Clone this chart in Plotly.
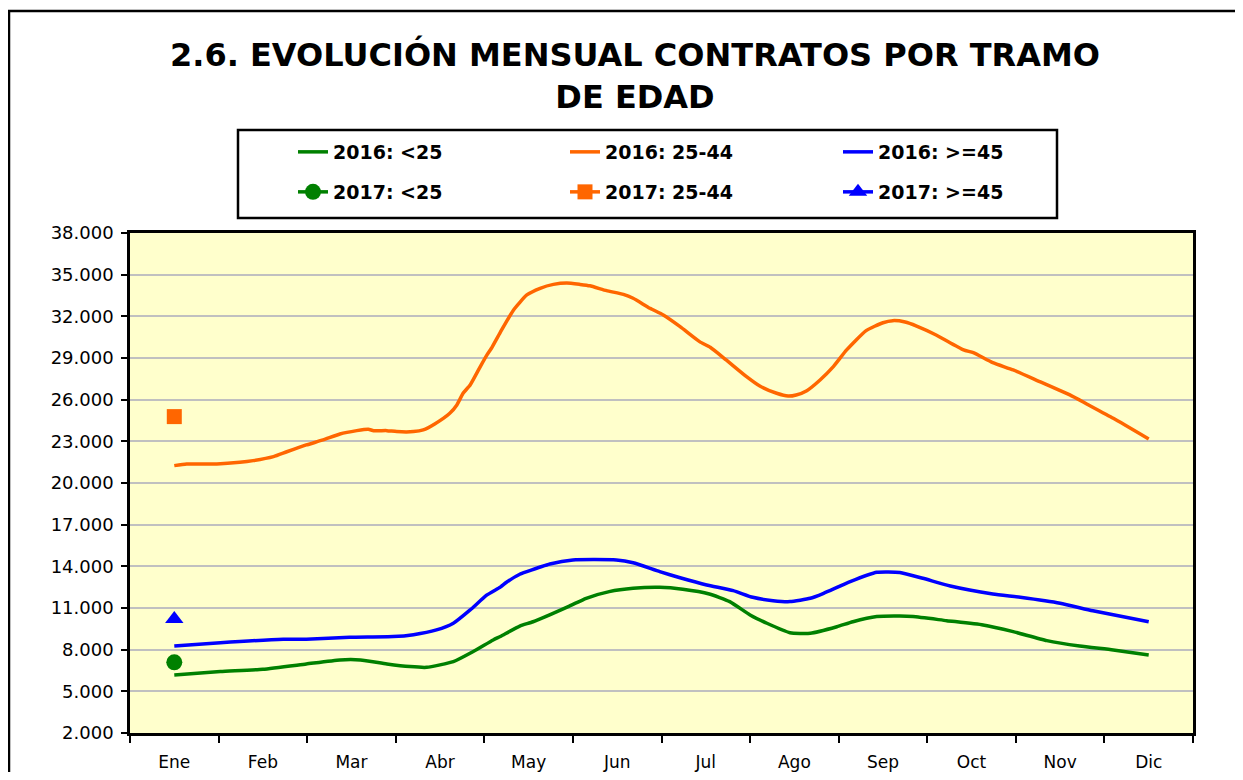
import plotly.graph_objects as go

# ---- data (month position: 1 = Ene ... 12 = Dic) ----
meses = ["Ene", "Feb", "Mar", "Abr", "May", "Jun", "Jul", "Ago", "Sep", "Oct", "Nov", "Dic"]

mes_25_44_2016 = [1.0, 1.14, 1.48, 1.74, 1.89, 2.12, 2.27, 2.49, 2.68, 2.87, 3.06, 3.19, 3.25, 3.40,
                  3.51, 3.70, 3.81, 3.94, 4.11, 4.19, 4.26, 4.34, 4.45, 4.53, 4.58, 4.68, 4.83, 4.98,
                  5.13, 5.28, 5.43, 5.58, 5.69, 5.88, 6.07, 6.18, 6.37, 6.52, 6.71, 6.93, 7.05, 7.23,
                  7.46, 7.61, 7.80, 7.93, 8.02, 8.14, 8.29, 8.44, 8.59, 8.81, 9.00, 9.11, 9.25, 9.38,
                  9.60, 9.91, 10.02, 10.24, 10.47, 10.77, 11.11, 11.30, 11.60, 12.0]
val_25_44_2016 = [21250, 21370, 21370, 21490, 21610, 21900, 22250, 22740, 23100, 23530, 23770, 23870,
                  23770, 23770, 23700, 23700, 23820, 24250, 25020, 25620, 26460, 27060, 28330, 29220,
                  29700, 30850, 32460, 33540, 34020, 34300, 34400, 34300, 34200, 33850, 33580, 33300,
                  32580, 32100, 31260, 30180, 29770, 28860, 27660, 26980, 26460, 26260, 26340, 26650,
                  27420, 28380, 29580, 30970, 31540, 31690, 31590, 31300, 30660, 29580, 29380, 28660,
                  28140, 27300, 26340, 25690, 24660, 23170]

mes_45_2016 = [1.0, 1.52, 2.23, 2.49, 2.98, 3.47, 3.70, 3.96, 4.15, 4.34, 4.53, 4.68, 4.75, 4.90,
               4.98, 5.24, 5.50, 5.99, 6.18, 6.48, 6.71, 7.01, 7.31, 7.53, 7.76, 7.95, 8.18, 8.33,
               8.63, 8.93, 9.19, 9.45, 9.76, 10.24, 10.55, 11.0, 11.37, 12.0]
val_45_2016 = [8260, 8500, 8750, 8750, 8890, 8940, 9080, 9420, 9900, 10860, 11940, 12500, 12850, 13430,
               13620, 14170, 14460, 14460, 14260, 13620, 13180, 12660, 12250, 11770, 11530, 11460,
               11700, 12060, 12900, 13570, 13560, 13140, 12580, 12010, 11770, 11340, 10800, 10010]

mes_25_2016 = [1.0, 1.52, 2.0, 2.49, 2.87, 3.10, 3.40, 3.66, 3.85, 4.15, 4.37, 4.60, 4.68, 4.90,
               5.05, 5.46, 5.65, 5.91, 6.18, 6.48, 6.74, 7.04, 7.27, 7.50, 7.69, 7.95, 8.18, 8.48,
               8.66, 8.93, 9.19, 9.34, 9.72, 10.13, 10.47, 10.85, 11.22, 11.60, 12.0]
val_25_2016 = [6180, 6420, 6590, 6970, 7260, 7260, 6970, 6780, 6730, 7140, 7850, 8700, 8950, 9700,
               10010, 11140, 11700, 12180, 12420, 12490, 12350, 12010, 11460, 10500, 9900, 9220,
               9180, 9650, 10010, 10380, 10420, 10380, 10090, 9780, 9300, 8650, 8260, 7980, 7620]

mes_2017 = [1]
val_25_2017 = [7090]
val_25_44_2017 = [24780]
val_45_2017 = [10200]

VERDE, NARANJA, AZUL = "#008000", "#FF6600", "#0000FF"
FONT = "DejaVu Sans, Verdana, sans-serif"

fig = go.Figure()

line_w = 3.5
fig.add_trace(go.Scatter(x=mes_25_2016, y=val_25_2016, mode="lines", name="2016: <25",
                         line=dict(color=VERDE, width=line_w, shape="spline", smoothing=0.5),
                         legend="legend"))
fig.add_trace(go.Scatter(x=mes_25_44_2016, y=val_25_44_2016, mode="lines", name="2016: 25-44",
                         line=dict(color=NARANJA, width=line_w, shape="spline", smoothing=0.5),
                         legend="legend2"))
fig.add_trace(go.Scatter(x=mes_45_2016, y=val_45_2016, mode="lines", name="2016: >=45",
                         line=dict(color=AZUL, width=line_w, shape="spline", smoothing=0.5),
                         legend="legend3"))
fig.add_trace(go.Scatter(x=mes_2017, y=val_25_2017, mode="lines+markers", name="2017: <25",
                         line=dict(color=VERDE, width=line_w),
                         marker=dict(symbol="circle", size=16, color=VERDE),
                         legend="legend4"))
fig.add_trace(go.Scatter(x=mes_2017, y=val_25_44_2017, mode="lines+markers", name="2017: 25-44",
                         line=dict(color=NARANJA, width=line_w),
                         marker=dict(symbol="square", size=15, color=NARANJA),
                         legend="legend5"))
fig.add_trace(go.Scatter(x=mes_2017, y=val_45_2017, mode="lines+markers", name="2017: >=45",
                         line=dict(color=AZUL, width=line_w),
                         marker=dict(symbol="triangle-up", size=16, color=AZUL),
                         legend="legend6"))

# page has an 8px body margin: figure occupies screen px 8..1235 / 8..772
OFF = 8
W, H = 1243 - 2 * OFF, 780 - 2 * OFF
L, T = 130 - OFF, 233 - OFF
R = W - (1193 - OFF)
B = H - (733 - OFF)
pw, ph = W - L - R, H - T - B


def px_x(p):
    return (p - OFF - L) / pw


def px_y(p):
    return (H - B - (p - OFF)) / ph


legend_font = dict(family=FONT, size=19, color="black", weight="bold")
common_leg = dict(orientation="h", xanchor="left", yanchor="middle", bgcolor="rgba(0,0,0,0)",
                  borderwidth=0, font=legend_font)
col_text = [333, 605, 878]
row_y = [152, 192]
legends = {}
names = ["legend", "legend2", "legend3", "legend4", "legend5", "legend6"]
for i, nm in enumerate(names):
    c = i % 3
    r = i // 3
    legends[nm] = dict(common_leg, x=px_x(col_text[c] - 40), y=px_y(row_y[r]))

fig.update_layout(
    width=W, height=H,
    margin=dict(l=L, r=R, t=T, b=B, autoexpand=False),
    paper_bgcolor="white",
    plot_bgcolor="#FFFFCC",
    separators=",.",
    showlegend=True,
    title=dict(
        text="<b>2.6. EVOLUCIÓN MENSUAL CONTRATOS POR TRAMO<br>DE EDAD</b>",
        x=px_x(635), xanchor="center", xref="paper",
        y=1 - (66 - OFF) / H, yanchor="middle",
        font=dict(family=FONT, size=32, color="black"),
    ),
    font=dict(family=FONT, size=16, color="black"),
    **legends,
)

fig.update_xaxes(
    range=[0.5, 12.5],
    tickmode="array", tickvals=list(range(1, 13)), ticktext=meses,
    ticks="", ticklen=0,
    minor=dict(tickmode="linear", tick0=0.5, dtick=1, ticks="outside", ticklen=7,
               tickwidth=2, tickcolor="black", showgrid=False),
    showgrid=False, zeroline=False, automargin=False,
    showline=True, linecolor="black", linewidth=2.5, mirror=True,
    ticklabelstandoff=12,
    tickfont=dict(size=17),
)
fig.update_yaxes(
    range=[2000, 38000], tick0=2000, dtick=3000, tickformat=",d",
    ticks="outside", ticklen=6, tickwidth=2, tickcolor="black",
    showgrid=True, gridcolor="#C0C0C0", gridwidth=2,
    zeroline=False, automargin=False,
    showline=True, linecolor="black", linewidth=2.5, mirror=True,
    ticklabelstandoff=4,
    tickfont=dict(size=18),
)

# outer chart frame and legend frame
fig.add_shape(type="rect", xref="paper", yref="paper",
              x0=px_x(OFF + 1), x1=px_x(1300), y0=px_y(850), y1=px_y(11),
              line=dict(color="black", width=2.5), fillcolor="rgba(0,0,0,0)", layer="below")
fig.add_shape(type="rect", xref="paper", yref="paper",
              x0=px_x(238), x1=px_x(1057), y0=px_y(218), y1=px_y(130),
              line=dict(color="black", width=2.5), fillcolor="rgba(0,0,0,0)")

fig.write_html("out.html")
